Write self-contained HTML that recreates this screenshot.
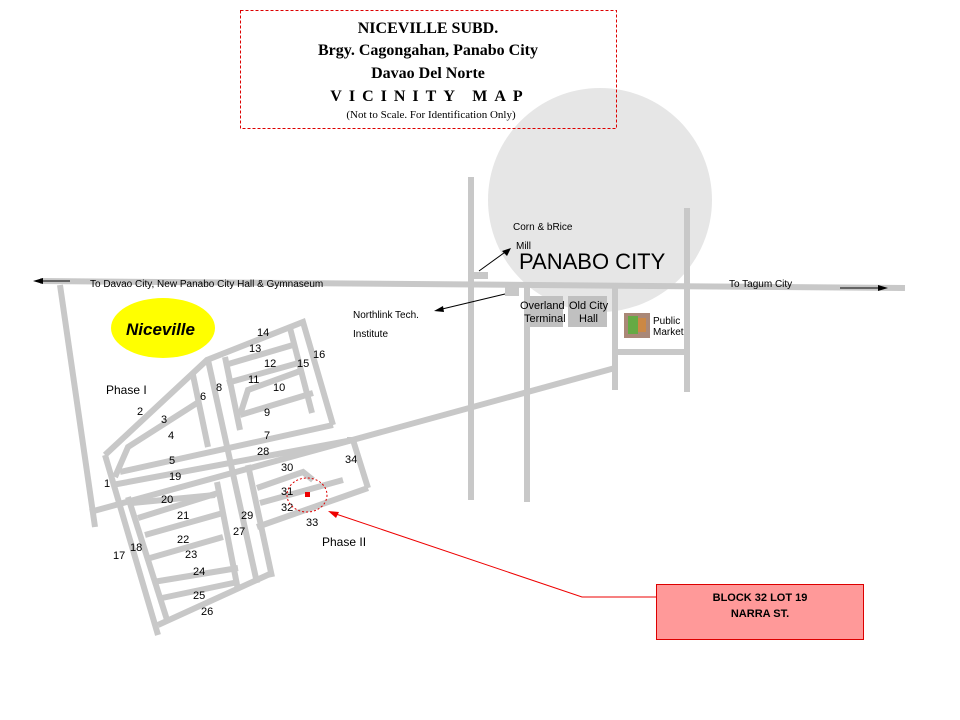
<!DOCTYPE html>
<html><head><style>
body{margin:0;width:960px;height:720px;background:#fff;overflow:hidden}
svg{display:block}
text{font-family:"Liberation Sans",sans-serif;font-size:11px;fill:#000}
.s{font-family:"Liberation Serif",serif;font-weight:bold;font-size:16px;text-anchor:middle}
</style></head><body>
<svg width="960" height="720" viewBox="0 0 960 720">
<circle cx="600" cy="200" r="112" fill="#e6e6e6"/>
<rect x="240.5" y="10.5" width="376" height="118" fill="none" stroke="#d00" stroke-dasharray="3,2"/>
<text class="s" x="428" y="33">NICEVILLE SUBD.</text>
<text class="s" x="428" y="55">Brgy. Cagongahan, Panabo City</text>
<text class="s" x="428" y="78">Davao Del Norte</text>
<text class="s" x="430" y="101" letter-spacing="7">VICINITY MAP</text>
<text x="431" y="118" style="font-family:'Liberation Serif',serif;font-size:11px;text-anchor:middle">(Not to Scale. For Identification Only)</text>
<g stroke="#c8c8c8" stroke-width="6" fill="none" stroke-linecap="butt">
<line x1="40" y1="281" x2="905" y2="288"/>
<line x1="471" y1="177" x2="471" y2="500"/>
<line x1="527" y1="286" x2="527" y2="502"/>
<line x1="615" y1="286" x2="615" y2="390"/>
<line x1="687" y1="208" x2="687" y2="392"/>
<line x1="615" y1="352" x2="687" y2="352"/>
<line x1="90" y1="512" x2="615" y2="368"/>
<line x1="60" y1="285" x2="95" y2="527"/>
<polyline points="105,455 207,360 303,322 333,425"/>
<line x1="290" y1="328" x2="312" y2="413"/>
<line x1="105" y1="455" x2="158" y2="635"/>
<line x1="193" y1="375" x2="208" y2="447"/>
<line x1="208" y1="360" x2="257" y2="583"/>
<line x1="225" y1="357" x2="240" y2="430"/>
<line x1="217" y1="482" x2="238" y2="590"/>
<line x1="248" y1="465" x2="272" y2="577"/>
<line x1="128" y1="497" x2="168" y2="623"/>
<line x1="225" y1="365" x2="293" y2="345"/>
<line x1="227" y1="383" x2="302" y2="362"/>
<polyline points="303,370 248,390 240,415"/>
<line x1="240" y1="415" x2="313" y2="393"/>
<line x1="120" y1="472" x2="333" y2="425"/>
<polyline points="197,403 128,447 115,477"/>
<line x1="112" y1="485" x2="353" y2="440"/>
<polyline points="347,440 353,440 368,488"/>
<line x1="132" y1="503" x2="215" y2="495"/>
<line x1="138" y1="518" x2="218" y2="493"/>
<line x1="145" y1="535" x2="223" y2="513"/>
<line x1="150" y1="558" x2="223" y2="537"/>
<line x1="153" y1="582" x2="238" y2="568"/>
<line x1="162" y1="598" x2="238" y2="582"/>
<line x1="158" y1="625" x2="272" y2="573"/>
<polyline points="257,488 303,472 313,480"/>
<line x1="260" y1="503" x2="343" y2="480"/>
<line x1="257" y1="527" x2="368" y2="488"/>
</g>
<rect x="474" y="272" width="14" height="7" fill="#c8c8c8"/>
<rect x="505" y="287" width="14" height="9" fill="#c8c8c8"/>
<rect x="530" y="296" width="33" height="31" fill="#c0c0c0"/>
<rect x="568" y="296" width="39" height="31" fill="#c0c0c0"/>
<text x="520" y="309">Overland</text><text x="524" y="322">Terminal</text>
<text x="569" y="309">Old City</text><text x="579" y="322">Hall</text>
<rect x="624" y="313" width="26" height="25" fill="#a87"/>
<rect x="628" y="316" width="10" height="18" fill="#6a4"/><rect x="638" y="318" width="8" height="14" fill="#c84"/>
<text x="653" y="324" style="font-size:10px">Public</text><text x="653" y="335" style="font-size:10px">Market</text>
<text x="519" y="269" style="font-size:22px">PANABO CITY</text>
<text x="513" y="230" style="font-size:10px">Corn &amp; bRice</text>
<text x="516" y="249" style="font-size:10px">Mill</text>
<line x1="479" y1="271" x2="508" y2="250" stroke="#000"/><polygon points="511,248 502,251 507,256" fill="#000"/>
<line x1="505" y1="294" x2="438" y2="310" stroke="#000"/><polygon points="434,311 443,306 444,312" fill="#000"/>
<text x="353" y="318" style="font-size:10px">Northlink Tech.</text>
<text x="353" y="337" style="font-size:10px">Institute</text>
<text x="90" y="287" style="font-size:10px">To Davao City, New Panabo City Hall &amp; Gymnaseum</text>
<text x="729" y="287" style="font-size:10px">To Tagum City</text>
<line x1="70" y1="281" x2="40" y2="281" stroke="#000"/><polygon points="33,281 43,278 43,284" fill="#000"/>
<line x1="840" y1="288" x2="880" y2="288" stroke="#000"/><polygon points="888,288 878,285 878,291" fill="#000"/>
<ellipse cx="163" cy="328" rx="52" ry="30" fill="#ffff00"/>
<text x="126" y="335" style="font-size:17px;font-weight:bold;font-style:italic">Niceville</text>
<text x="106" y="394" style="font-size:12px">Phase I</text>
<text x="322" y="546" style="font-size:12px">Phase II</text>
<g style="font-size:10px">
<text x="257" y="336">14</text><text x="249" y="352">13</text><text x="264" y="367">12</text><text x="297" y="367">15</text><text x="313" y="358">16</text>
<text x="248" y="383">11</text><text x="273" y="391">10</text><text x="216" y="391">8</text><text x="200" y="400">6</text>
<text x="137" y="415">2</text><text x="161" y="423">3</text><text x="168" y="439">4</text><text x="264" y="416">9</text><text x="264" y="439">7</text>
<text x="257" y="455">28</text><text x="169" y="464">5</text><text x="281" y="471">30</text><text x="345" y="463">34</text>
<text x="169" y="480">19</text><text x="104" y="487">1</text><text x="281" y="495">31</text><text x="161" y="503">20</text>
<text x="281" y="511">32</text><text x="177" y="519">21</text><text x="241" y="519">29</text><text x="306" y="526">33</text>
<text x="233" y="535">27</text><text x="177" y="543">22</text><text x="130" y="551">18</text><text x="113" y="559">17</text>
<text x="185" y="558">23</text><text x="193" y="575">24</text><text x="193" y="599">25</text><text x="201" y="615">26</text>
</g>
<ellipse cx="307" cy="495" rx="20" ry="17" fill="none" stroke="#d00" stroke-dasharray="2,2"/>
<rect x="305" y="492" width="5" height="5" fill="#e00"/>
<polyline points="656,597 582,597 333,513" fill="none" stroke="#e00"/>
<polygon points="328,511 339,512 336,518" fill="#e00"/>
<rect x="656.5" y="584.5" width="207" height="55" fill="#ff9999" stroke="#d00"/>
<text x="760" y="601" style="font-weight:bold;text-anchor:middle">BLOCK 32  LOT 19</text>
<text x="760" y="617" style="font-weight:bold;text-anchor:middle">NARRA  ST.</text>
</svg>
</body></html>
